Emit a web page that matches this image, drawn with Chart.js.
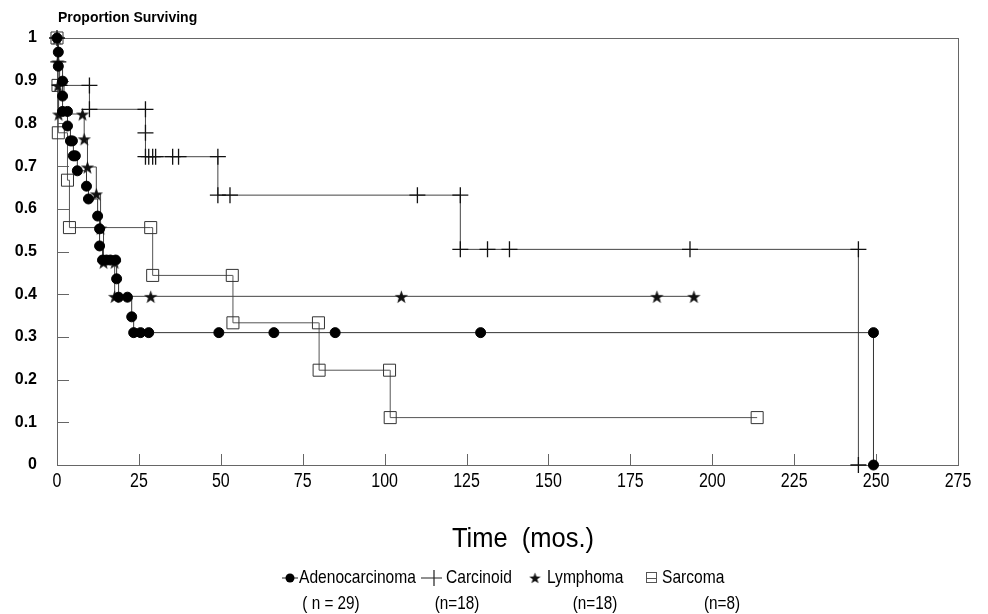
<!DOCTYPE html>
<html lang="en">
<head>
  <meta charset="UTF-8">
  <title>Proportion Surviving by Histology</title>
  <script src="https://cdn.jsdelivr.net/npm/chart.js"></script>
  <style>
    html, body { margin: 0; padding: 0; background: #fff; }
  </style>
</head>
<body>
  <canvas id="kmChart" width="988" height="614"></canvas>

  <script>
    // Kaplan-Meier steps (time in months, proportion surviving)
    var adenoTime = [0, 0.4, 0.4, 1.7, 1.7, 1.7, 3.2, 3.2, 4.1, 4.7, 5.0, 5.6, 6.2, 9.0, 9.6, 12.4, 13.0, 13.0,
                     13.9, 15.1, 16.3, 17.9, 18.2, 18.8, 21.5, 22.8, 23.4, 25.5, 28.0, 49.4, 66.2, 84.9, 129.3, 249.2, 249.2];
    var adenoSurv = [1, 0.967, 0.934, 0.899, 0.864, 0.828, 0.828, 0.794, 0.759, 0.759, 0.724, 0.724, 0.689, 0.653, 0.623, 0.583, 0.553, 0.513,
                     0.48, 0.48, 0.48, 0.48, 0.436, 0.393, 0.393, 0.347, 0.31, 0.31, 0.31, 0.31, 0.31, 0.31, 0.31, 0.31, 0];

    var carcTime = [0, 0.4, 0.8, 9.9, 9.9, 27.0, 27.0, 27.0, 28.0, 29.2, 30.1, 35.3, 37.1, 49.1, 49.1, 52.8, 110, 123.1, 123.1,
                    131.4, 138.1, 193.2, 244.6, 244.6];
    var carcSurv = [1, 0.944, 0.889, 0.889, 0.833, 0.833, 0.778, 0.722, 0.722, 0.722, 0.722, 0.722, 0.722, 0.722, 0.632, 0.632, 0.632, 0.632, 0.505,
                    0.505, 0.505, 0.505, 0.505, 0];

    var lymphTime = [0, 0.3, 0.3, 0.5, 7.8, 8.3, 9.3, 12.0, 13.3, 14.2, 17.6, 17.6, 28.6, 105.1, 183.1, 194.4];
    var lymphSurv = [1, 0.944, 0.889, 0.822, 0.822, 0.764, 0.698, 0.635, 0.555, 0.475, 0.475, 0.395, 0.395, 0.395, 0.395, 0.395];

    var sarcTime = [0, 0.3, 0.4, 3.2, 3.8, 28.6, 29.2, 53.5, 53.7, 79.8, 80.0, 101.5, 101.7, 213.7];
    var sarcSurv = [1, 0.889, 0.778, 0.667, 0.556, 0.556, 0.444, 0.444, 0.333, 0.333, 0.222, 0.222, 0.111, 0.111];

    var groupNames = ['Adenocarcinoma', 'Carcinoid', 'Lymphoma', 'Sarcoma'];
    var groupCounts = ['( n = 29)', '(n=18)', '(n=18)', '(n=8)'];

    var xTicks = [0, 25, 50, 75, 100, 125, 150, 175, 200, 225, 250, 275];
    var yTicks = [0, 0.1, 0.2, 0.3, 0.4, 0.5, 0.6, 0.7, 0.8, 0.9, 1];

    function pts(t, s) {
      return t.map(function (v, i) { return { x: v, y: s[i] }; });
    }

    // filled five point star, used as a point style
    function makeStar(size, outer, inner) {
      var c = document.createElement('canvas');
      c.width = size; c.height = size;
      var g = c.getContext('2d');
      g.fillStyle = '#111';
      g.beginPath();
      for (var i = 0; i < 10; i++) {
        var r = i % 2 ? inner : outer;
        var a = -Math.PI / 2 + i * Math.PI / 5;
        var px = size / 2 + r * Math.cos(a), py = size / 2 + 1 + r * Math.sin(a);
        if (i === 0) g.moveTo(px, py); else g.lineTo(px, py);
      }
      g.closePath();
      g.fill();
      return c;
    }
    var starBig = makeStar(15, 7, 2.8);
    var starSmall = makeStar(13, 6, 2.4);

    var sans = '"Liberation Sans", Arial, sans-serif';

    // the original uses a condensed face, so squeeze Liberation Sans sideways
    function squeezed(ctx, text, x, y, size, sx, align) {
      ctx.save();
      ctx.font = size + 'px ' + sans;
      ctx.textAlign = align;
      ctx.textBaseline = 'middle';
      ctx.translate(x, y);
      ctx.scale(sx, 1);
      ctx.fillText(text, 0, 0);
      ctx.restore();
    }

    var frame = {
      id: 'frame',
      beforeDatasetsDraw: function (chart) {
        var ctx = chart.ctx, a = chart.chartArea;
        var xs = chart.scales.x, ys = chart.scales.y;
        ctx.save();
        ctx.strokeStyle = '#666';
        ctx.lineWidth = 1;
        ctx.strokeRect(a.left + 0.5, a.top + 0.5, a.right - a.left, a.bottom - a.top);
        // inward tick marks
        ctx.beginPath();
        yTicks.forEach(function (v) {
          var y = Math.round(ys.getPixelForValue(v)) + 0.5;
          ctx.moveTo(a.left, y); ctx.lineTo(a.left + 12, y);
        });
        xTicks.forEach(function (v) {
          var x = Math.round(xs.getPixelForValue(v)) + 0.5;
          ctx.moveTo(x, a.bottom); ctx.lineTo(x, a.bottom - 11);
        });
        ctx.stroke();
        ctx.restore();
      },
      afterDraw: function (chart) {
        var ctx = chart.ctx, xs = chart.scales.x;
        ctx.save();
        ctx.fillStyle = '#000';

        // x tick labels
        xTicks.forEach(function (v) {
          squeezed(ctx, String(v), xs.getPixelForValue(v), 481, 20, 0.8, 'center');
        });

        ctx.font = 'bold 14px ' + sans;
        ctx.textAlign = 'left';
        ctx.textBaseline = 'middle';
        ctx.fillText('Proportion Surviving', 58, 18);

        squeezed(ctx, 'Time  (mos.)', 523, 539, 28, 0.91, 'center');

        // legend symbols
        var ly = 578;
        ctx.strokeStyle = '#222';
        ctx.lineWidth = 1.2;
        ctx.beginPath();
        ctx.moveTo(282, ly); ctx.lineTo(298, ly);
        ctx.moveTo(421, ly); ctx.lineTo(442, ly);
        ctx.moveTo(434, ly - 8); ctx.lineTo(434, ly + 8);
        ctx.stroke();
        ctx.beginPath();
        ctx.arc(290, ly, 4.5, 0, Math.PI * 2);
        ctx.fill();
        ctx.drawImage(starSmall, 535 - 6.5, ly - 7);
        ctx.lineWidth = 1;
        ctx.strokeStyle = '#555';
        ctx.strokeRect(646.5, ly - 5.5, 10, 10);
        ctx.beginPath();
        ctx.moveTo(646, ly + 0.5); ctx.lineTo(657, ly + 0.5);
        ctx.stroke();

        var nameX = [299, 446, 547, 662];
        groupNames.forEach(function (n, i) { squeezed(ctx, n, nameX[i], ly, 19, 0.82, 'left'); });

        var countX = [331, 457, 595, 722];
        groupCounts.forEach(function (n, i) { squeezed(ctx, n, countX[i], 604, 18, 0.85, 'center'); });
        ctx.restore();
      }
    };

    var ctx = document.getElementById('kmChart').getContext('2d');
    var kmChart = new Chart(ctx, {
      type: 'line',
      data: {
        datasets: [{
          label: groupNames[0],
          data: pts(adenoTime, adenoSurv),
          stepped: true,
          borderColor: '#333',
          borderWidth: 1,
          pointStyle: 'circle',
          pointRadius: 5,
          pointBackgroundColor: '#000',
          pointBorderColor: '#000',
          pointBorderWidth: 1,
          clip: false
        }, {
          label: groupNames[1],
          data: pts(carcTime, carcSurv),
          stepped: true,
          borderColor: '#444',
          borderWidth: 1,
          pointStyle: 'cross',
          pointRadius: 8,
          pointBorderColor: '#111',
          pointBorderWidth: 1.3,
          clip: false
        }, {
          label: groupNames[2],
          data: pts(lymphTime, lymphSurv),
          stepped: true,
          borderColor: '#444',
          borderWidth: 1,
          pointStyle: starBig,
          clip: false
        }, {
          label: groupNames[3],
          data: pts(sarcTime, sarcSurv),
          stepped: true,
          borderColor: '#555',
          borderWidth: 1,
          pointStyle: 'rect',
          pointRadius: 8.5,
          pointBackgroundColor: 'rgba(0,0,0,0)',
          pointBorderColor: '#333',
          pointBorderWidth: 1,
          clip: false
        }]
      },
      options: {
        responsive: false,
        animation: false,
        layout: { padding: { top: 38, right: 30, left: 0, bottom: 0 } },
        plugins: {
          legend: { display: false },
          tooltip: { enabled: false }
        },
        scales: {
          x: {
            type: 'linear',
            min: 0,
            max: 275,
            grid: { display: false, drawTicks: false },
            border: { display: false },
            afterBuildTicks: function (s) { s.ticks = xTicks.map(function (v) { return { value: v }; }); },
            afterFit: function (s) { s.height = 149; },
            ticks: { display: false }
          },
          y: {
            min: 0,
            max: 1,
            grid: { display: false, drawTicks: false },
            border: { display: false },
            afterBuildTicks: function (s) { s.ticks = yTicks.map(function (v) { return { value: v }; }); },
            afterFit: function (s) { s.width = 57; },
            ticks: {
              color: '#000',
              padding: 20,
              font: { family: sans, size: 16, weight: 'bold' },
              callback: function (v) { return String(Math.round(v * 10) / 10); }
            }
          }
        }
      },
      plugins: [frame]
    });
  </script>
</body>
</html>
